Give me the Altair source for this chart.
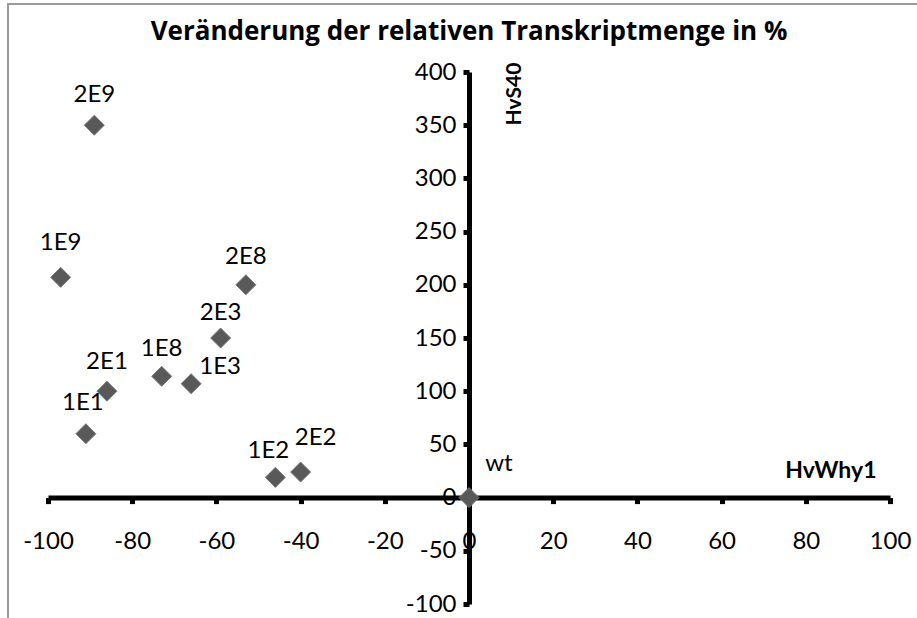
import altair as alt
import pandas as pd

# Samples and their relative change in transcript amount (%)
labels = ["2E9", "1E9", "2E8", "2E3", "1E8", "1E3", "2E1", "1E1", "1E2", "2E2", "wt"]
hvwhy1 = [-89, -97, -53, -59, -73, -66, -86, -91, -46, -40, 0]
hvs40 = [350, 207, 200, 150, 114, 107, 100, 60, 19, 24, 0]

x_ticks = list(range(-100, 101, 20))
y_ticks = list(range(-100, 401, 50))

# Pixel nudges for the point labels (label placement only)
label_dx = [0, 0, 0, 0, 0, 29, 0, -3, -7, 15, 30]
label_dy = [-30, -34, -28, -25, -27, -17, -29, -31, -26, -34, -34]

df = pd.DataFrame({
    "name": labels,
    "HvWhy1": hvwhy1,
    "HvS40": hvs40,
    "dx": label_dx,
    "dy": label_dy,
})

W, H = 842, 532
X_DOM = [-100, 100]
Y_DOM = [-100, 400]
FONT = "Lato"
TITLE_FONT = "Open Sans"
PX_X = (X_DOM[1] - X_DOM[0]) / W   # data units per pixel, horizontal
PX_Y = (Y_DOM[1] - Y_DOM[0]) / H   # data units per pixel, vertical

# Put the axes through the origin
x_axis_offset = -(0 - Y_DOM[0]) / (Y_DOM[1] - Y_DOM[0]) * H
y_axis_offset = -(0 - X_DOM[0]) / (X_DOM[1] - X_DOM[0]) * W

x_scale = alt.Scale(domain=X_DOM, nice=False, zero=False)
y_scale = alt.Scale(domain=Y_DOM, nice=False, zero=False)

x_enc = alt.X(
    "HvWhy1:Q",
    scale=x_scale,
    axis=alt.Axis(
        values=x_ticks, orient="bottom", offset=x_axis_offset, grid=False,
        domainColor="black", domainWidth=5, tickColor="black", tickWidth=5,
        tickSize=6, labelFont=FONT, labelFontSize=24, labelColor="black",
        labelPadding=26, labelFlush=False, labelOverlap=False,
        labelExpr="'' + datum.value",
        title="HvWhy1", titleFont=FONT, titleFontSize=23, titleFontWeight="bold",
        titleColor="black", titleX=828, titleY=-20, titleAlign="right",
        titleBaseline="alphabetic", titleAnchor="end",
    ),
)
y_enc = alt.Y(
    "HvS40:Q",
    scale=y_scale,
    axis=alt.Axis(
        values=y_ticks, orient="left", offset=y_axis_offset, grid=False,
        domainColor="black", domainWidth=5, tickColor="black", tickWidth=5,
        tickSize=6, labelFont=FONT, labelFontSize=24, labelColor="black",
        labelPadding=7, labelFlush=False, labelOverlap=False,
        labelExpr="'' + datum.value",
        title="HvS40", titleFont=FONT, titleFontSize=21, titleFontWeight="bold",
        titleColor="black", titleAngle=270, titleX=51, titleY=53,
        titleAlign="left", titleBaseline="alphabetic",
    ),
)

frame = alt.Chart(alt.Data(values=[{}])).mark_rect(
    fillOpacity=0, stroke="#9a9a9a", strokeWidth=2
).encode(
    x=alt.value(-40), x2=alt.value(900), y=alt.value(-68), y2=alt.value(600)
)

points = alt.Chart(df).mark_point(
    shape="diamond", filled=True, size=400, color="#595959",
    stroke="#7a7a7a", strokeWidth=1, opacity=1,
).encode(x=x_enc, y=y_enc)

texts = alt.Chart(df).transform_calculate(
    lx=f"datum.HvWhy1 + datum.dx * {PX_X}",
    ly=f"datum.HvS40 - datum.dy * {PX_Y}",
).mark_text(
    font=FONT, fontSize=24, color="black", align="center", baseline="middle"
).encode(
    x=alt.X("lx:Q", scale=x_scale),
    y=alt.Y("ly:Q", scale=y_scale),
    text="name:N",
)

chart = alt.layer(frame, points, texts).properties(
    width=W,
    height=H,
    autosize=alt.AutoSizeParams(type="none"),
    padding={"left": 48, "top": 72, "right": 27, "bottom": 14},
    background="white",
    title=alt.TitleParams(
        "Veränderung der relativen Transkriptmenge in %",
        font=TITLE_FONT, fontSize=26, fontWeight="bold", color="black",
        anchor="middle", offset=-42,
    ),
).configure_view(stroke="transparent", strokeWidth=0)

chart.save("out.html", embed_options={"renderer": "svg", "actions": False})
